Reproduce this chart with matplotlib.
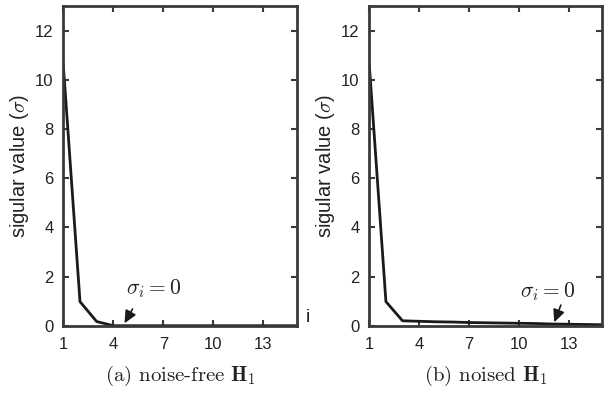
import matplotlib
matplotlib.use("Agg")
import matplotlib.pyplot as plt

plt.rcParams['font.family'] = ['Liberation Sans', 'DejaVu Sans']
plt.rcParams['mathtext.fontset'] = 'cm'

idx = list(range(1, 16))
sv_clean = [10.6, 0.98, 0.17, 0.0, 0.0, 0.0, 0.0, 0.0, 0.0, 0.0, 0.0, 0.0, 0.0, 0.0, 0.0]
sv_noised = [10.6, 0.98, 0.2, 0.18, 0.16, 0.15, 0.13, 0.12, 0.11, 0.10, 0.09, 0.07, 0.06, 0.05, 0.04]
xticks = [1, 4, 7, 10, 13]
yticks = [0, 2, 4, 6, 8, 10, 12]
captions = [r'(a) noise-free $\mathbf{H_1}$', r'(b) noised $\mathbf{H_1}$']
arrow_tip = [(4.67, 0.10), (12.14, 0.14)]
arrow_tail = [(5.15, 0.68), (12.54, 0.84)]
text_pos = [(6.44, 1.50), (11.72, 1.37)]

fig = plt.figure(figsize=(6.13, 3.95), dpi=100)
ax1 = fig.add_axes([0.1033, 0.1754, 0.3807, 0.809])
ax2 = fig.add_axes([0.6025, 0.1754, 0.3791, 0.809])

spine_c = '#3a3a3a'
for k, (ax, sv) in enumerate(zip([ax1, ax2], [sv_clean, sv_noised])):
    ax.plot(idx, sv, color='#1a1a1a', lw=2.0)
    ax.set_xlim(1, 15)
    ax.set_ylim(0, 13)
    ax.set_xticks(xticks)
    ax.set_yticks(yticks)
    ax.tick_params(direction='in', top=True, right=True, length=4, width=1.5,
                   colors=spine_c, labelcolor='#222222', labelsize=12)
    ax.tick_params(axis='x', pad=8)
    ax.tick_params(axis='y', pad=7)
    for s in ax.spines.values():
        s.set_linewidth(2.0)
        s.set_color(spine_c)
    ax.set_ylabel(r'sigular value ($\sigma$)', fontsize=14.5, color='#222222', labelpad=3)
    ax.annotate('', xy=arrow_tip[k], xytext=arrow_tail[k], textcoords='data',
                arrowprops=dict(arrowstyle='-|>,head_length=0.75,head_width=0.35',
                                color='#1a1a1a', lw=1.2, shrinkA=0, shrinkB=0))
    ax.text(text_pos[k][0], text_pos[k][1], r'$\sigma_i = 0$', fontsize=15.5,
            ha='center', va='center', color='#222222')
    ax.text(0.5, -0.157, captions[k], transform=ax.transAxes, ha='center', va='center',
            fontsize=15, family='cmr10', color='#222222')

ax1.text(15.68, 0.35, 'i', fontsize=14, ha='center', va='center', color='#222222',
         clip_on=False)

fig.savefig('out.png', dpi=100)
